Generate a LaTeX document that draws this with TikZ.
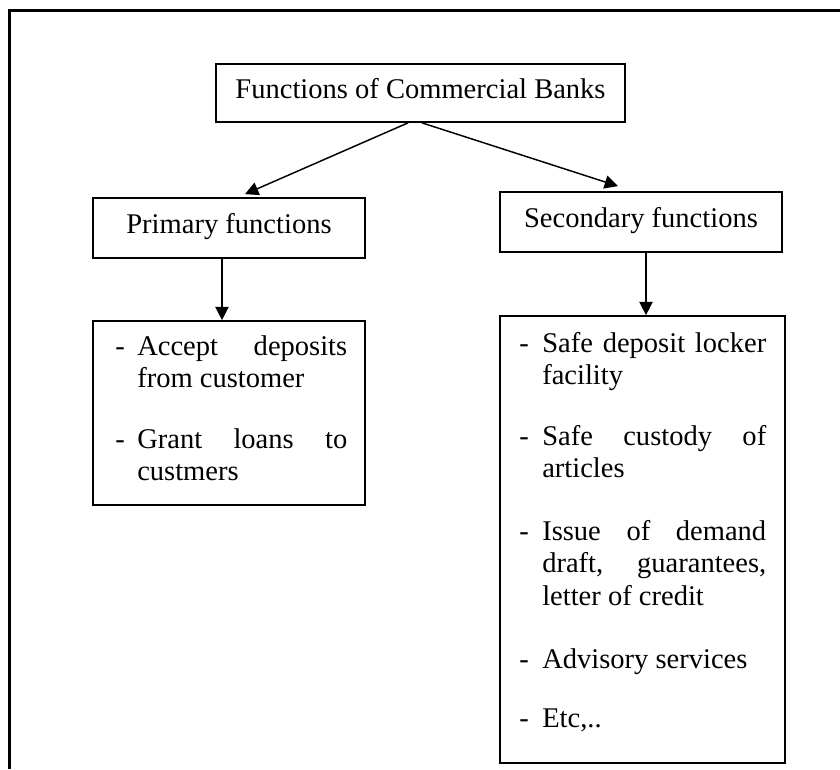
\documentclass[tikz,border=0pt]{standalone}
\usepackage{fontspec}
\setmainfont{Liberation Serif}
\usetikzlibrary{arrows.meta,calc}
\newcommand{\bodyfs}{\fontsize{21.4pt}{24.4pt}\selectfont}
\begin{document}
\begin{tikzpicture}[x=0.75pt,y=-0.75pt,
  box/.style={draw, line width=1.3pt, inner sep=0pt, font=\bodyfs, text height=14.5pt, text depth=6.4pt},
  arr/.style={line width=1.1pt, -{Triangle[length=10pt,width=10pt]}},
  itemtext/.style={anchor=base west, inner sep=0pt, font=\bodyfs, align=left}]
\useasboundingbox (0,0) rectangle (840,769);
\draw[line width=2.4pt] (9.5,769) -- (9.5,10.5) -- (840,10.5);

\node[box, minimum width=306.75pt, minimum height=43.5pt] (title) at (420.5,93) {Functions of Commercial Banks};
\node[box, minimum width=204pt, minimum height=45pt] (prim) at (229,228) {Primary functions};
\node[box, minimum width=211.5pt, minimum height=45pt] (sec) at (641,222) {Secondary functions};
\node[box, minimum width=204pt, minimum height=138pt] (pitems) at (229,413) {};
\node[box, minimum width=213.75pt, minimum height=335.25pt] (sitems) at (642.5,539.5) {};

\node[itemtext] (p1) at (115,355) {\begin{tabular}[t]{@{}p{16.5pt}@{}p{157.5pt}@{}}-&\makebox[157.5pt][s]{Accept deposits}\\&from customer\end{tabular}};
\node[itemtext] (p2) at (115,448) {\begin{tabular}[t]{@{}p{16.5pt}@{}p{157.5pt}@{}}-&\makebox[157.5pt][s]{Grant loans to}\\&custmers\end{tabular}};

\node[itemtext] (s1) at (519,352) {\begin{tabular}[t]{@{}p{17.25pt}@{}p{168pt}@{}}-&\makebox[168pt][s]{Safe deposit locker}\\&facility\end{tabular}};
\node[itemtext] (s2) at (519,445) {\begin{tabular}[t]{@{}p{17.25pt}@{}p{168pt}@{}}-&\makebox[168pt][s]{Safe custody of}\\&articles\end{tabular}};
\node[itemtext] (s3) at (519,540) {\begin{tabular}[t]{@{}p{17.25pt}@{}p{168pt}@{}}-&\makebox[168pt][s]{Issue of demand}\\&\makebox[168pt][s]{draft, guarantees,}\\&letter of credit\end{tabular}};
\node[itemtext] (s4) at (519,668) {\begin{tabular}[t]{@{}p{17.25pt}@{}p{168pt}@{}}-&Advisory services\end{tabular}};
\node[itemtext] (s5) at (519,727) {\begin{tabular}[t]{@{}p{17.25pt}@{}p{168pt}@{}}-&Etc,..\end{tabular}};

\draw[arr] ($(title.south)+(-12.5,0)$) -- ($(prim.north)+(16,-3)$);
\draw[arr] ($(title.south)+(1.5,0)$) -- ($(sec.north)+(-23,-5)$);
\draw[arr] ($(prim.south)+(-7,0)$) -- ($(pitems.north)+(-7,0)$);
\draw[arr] ($(sec.south)+(5,0)$) -- ($(sitems.north)+(3.5,0)$);
\end{tikzpicture}
\end{document}
